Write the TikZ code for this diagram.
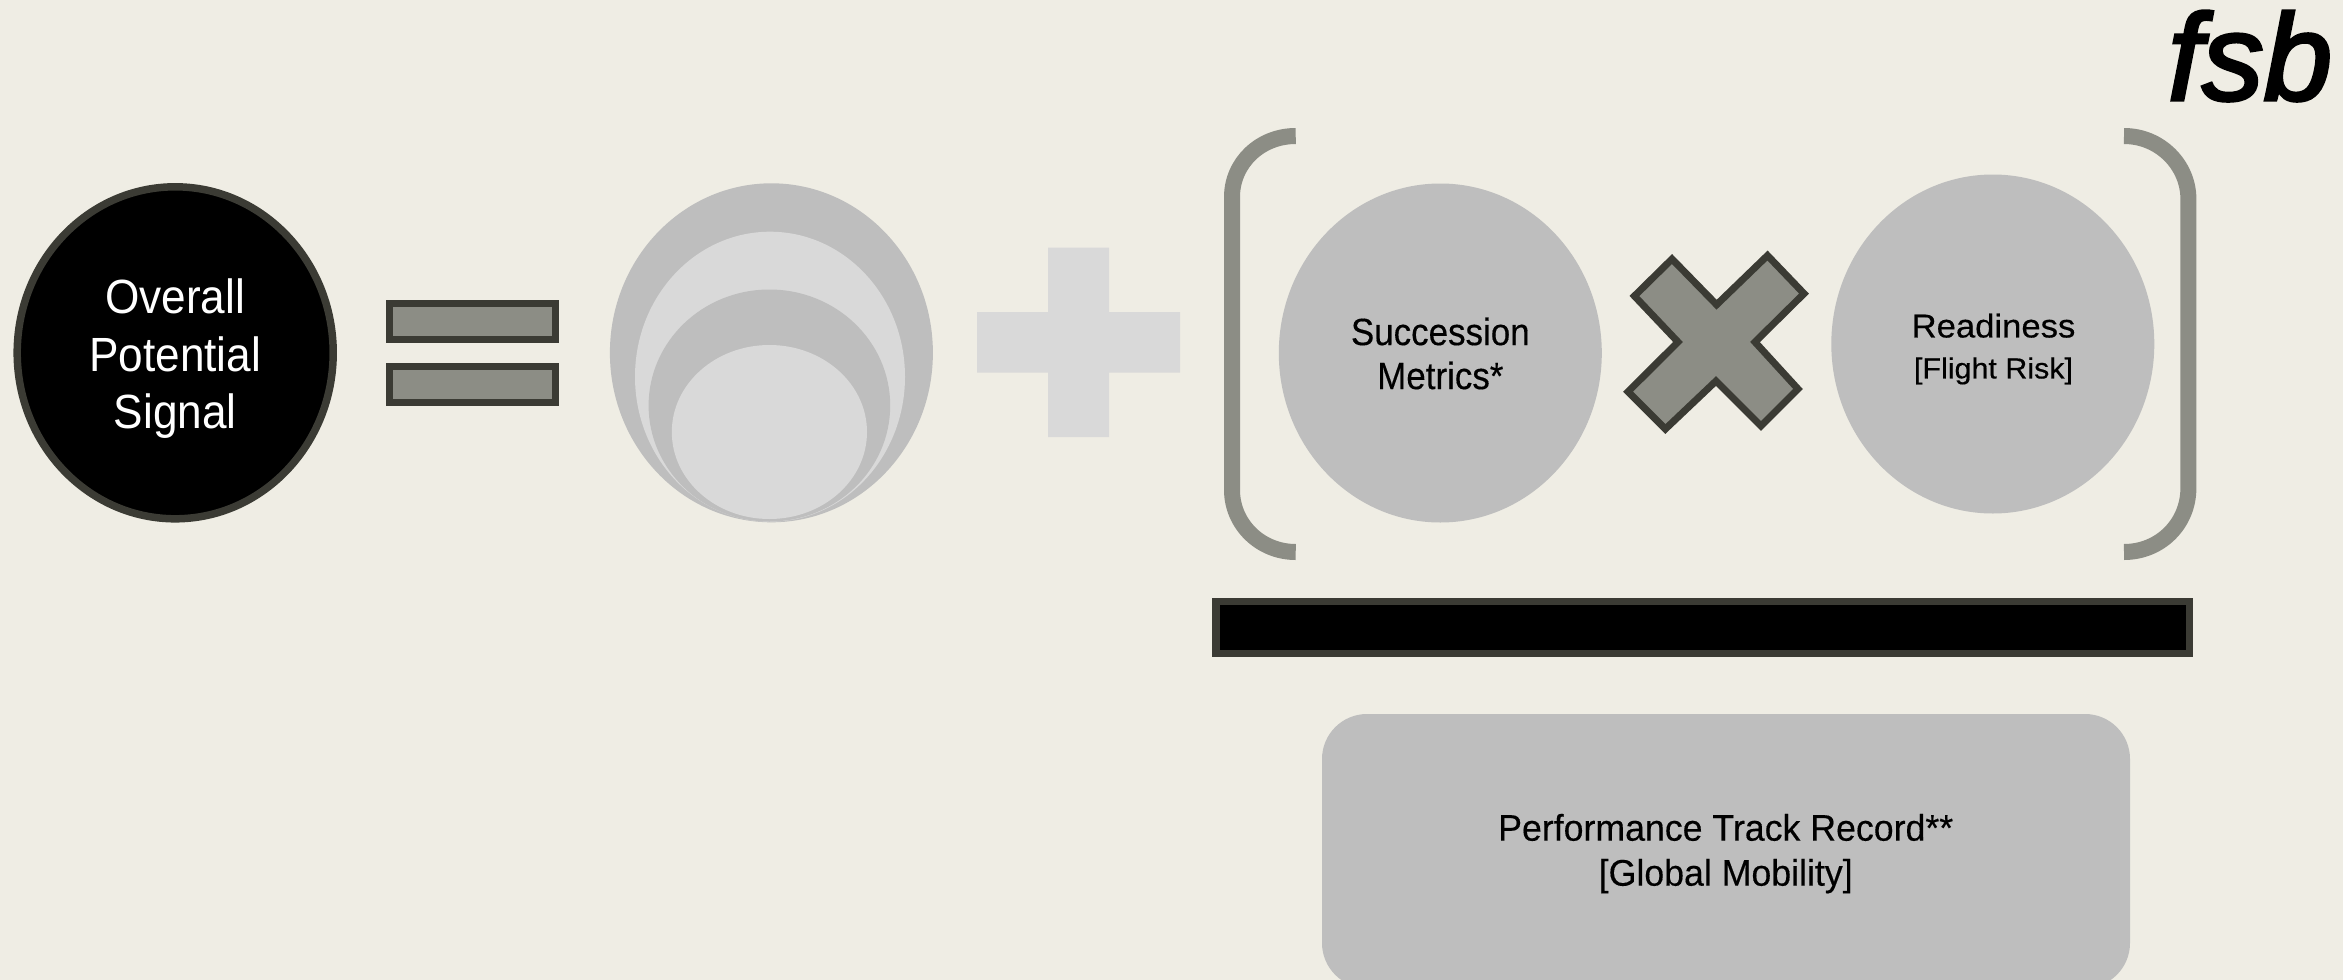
\documentclass[tikz,border=0pt]{standalone}
\usepackage{fontspec}
\usetikzlibrary{shapes.geometric}
\setmainfont{Liberation Sans}
\newfontfamily\ovfont[FakeStretch=0.92]{Liberation Sans}
\newfontfamily\sufont[FakeStretch=0.92,FakeBold=0.3]{Liberation Sans}
\newfontfamily\refont[FakeStretch=1.05,FakeBold=0.4]{Liberation Sans}
\newfontfamily\pefont[FakeStretch=0.965,FakeBold=0.3]{Liberation Sans}
\newfontfamily\fsbfont[ItalicFeatures={FakeBold=2.6}]{Liberation Sans}
\definecolor{pagebg}{HTML}{EFEDE4}
\definecolor{midgray}{HTML}{BEBEBE}
\definecolor{lightgray}{HTML}{D9D9D9}
\definecolor{darkline}{HTML}{3B3B34}
\definecolor{warmgray}{HTML}{8C8D85}
\tikzset{
  oval/.style={ellipse,inner sep=0pt,outer sep=0pt,minimum width=#1},
  midoval/.style={oval=323pt,minimum height=339pt,fill=midgray},
  barbox/.style={rectangle,inner sep=0pt,outer sep=0pt,fill=warmgray,draw=darkline,line width=7pt,minimum width=166pt,minimum height=36pt},
  bracketline/.style={draw=warmgray,line width=16pt,line cap=butt},
  label/.style={inner sep=0pt,outer sep=0pt,align=center,text=black},
}
\begin{document}
\begin{tikzpicture}[x=1pt,y=-1pt]
\fill[pagebg] (0,0) rectangle (2343,980);
\useasboundingbox (0,0) rectangle (2343,980);
% left oval
\node[oval=316pt,minimum height=332pt,fill=black,draw=darkline,line width=7.5pt] (signal) at (175.2,352.8) {};
\node[label,text=white,font=\ovfont\fontsize{48}{57.6}\selectfont] (signaltext) at (175.2,358.6) {Overall\\Potential\\Signal};
% equals
\node[barbox] (eqtop) at (472.2,321.3) {};
\node[barbox] (eqbot) at (472.2,384.5) {};
% nested ovals
\node[midoval] (nest1) at (771.4,352.8) {};
\node[oval=270pt,minimum height=290pt,fill=lightgray] (nest2) at (770,376.7) {};
\node[oval=241.6pt,minimum height=232pt,fill=midgray] (nest3) at (769.4,405.5) {};
\node[oval=195.2pt,minimum height=174pt,fill=lightgray] (nest4) at (769.4,432) {};
% plus
\fill[lightgray] (1048.2,247.7) -- (1109,247.7) -- (1109,312) -- (1180,312) -- (1180,372.7) -- (1109,372.7) -- (1109,437) -- (1048.2,437) -- (1048.2,372.7) -- (977,372.7) -- (977,312) -- (1048.2,312) -- cycle;
% brackets
\draw[bracketline] (1295.7,136) .. controls (1260,136) and (1232,163) .. (1232,197) -- (1232,490) .. controls (1232,524) and (1260,552) .. (1295.7,552);
\draw[bracketline] (2124,136) .. controls (2160,136) and (2188.4,165) .. (2188.4,199) -- (2188.4,488) .. controls (2188.4,524) and (2160,552) .. (2124,552);
% operands
\node[midoval] (succession) at (1440.3,353) {};
\node[label,font=\sufont\fontsize{38}{44}\selectfont] (successiontext) at (1440.3,353.5) {Succession\\Metrics*};
\fill[warmgray,draw=darkline,line width=7pt,miter limit=10] (1672,259) -- (1716.6,304.7) -- (1767.5,255.5) -- (1804,293.6) -- (1755,342) -- (1798,389) -- (1761,426) -- (1716,381) -- (1665.4,429) -- (1628,391.7) -- (1678,342) -- (1634.4,296) -- cycle;
\node[midoval] (readiness) at (1992.8,344) {};
\node[label,font=\refont\fontsize{29}{41}\selectfont] (readinesstext) at (1993.5,349) {{\fontsize{33}{41}\selectfont Readiness}\\{}[Flight Risk]};
% black bar
\node[rectangle,inner sep=0pt,outer sep=0pt,fill=black,draw=darkline,line width=7.5pt,minimum width=973.5pt,minimum height=52pt] (divider) at (1702.6,627.3) {};
% track record
\node[rectangle,rounded corners=45pt,inner sep=0pt,outer sep=0pt,fill=midgray,minimum width=808pt,minimum height=274pt] (track) at (1726,851) {};
\node[label,font=\pefont\fontsize{37}{45}\selectfont] (tracktext) at (1725.7,853.6) {Performance Track Record**\\{}[Global Mobility]};
% logo
\node[inner sep=0pt,outer sep=0pt,anchor=base east,font=\fsbfont\fontsize{123}{123}\selectfont\itshape] (logo) at (2332,100) {fsb};
\end{tikzpicture}
\end{document}
